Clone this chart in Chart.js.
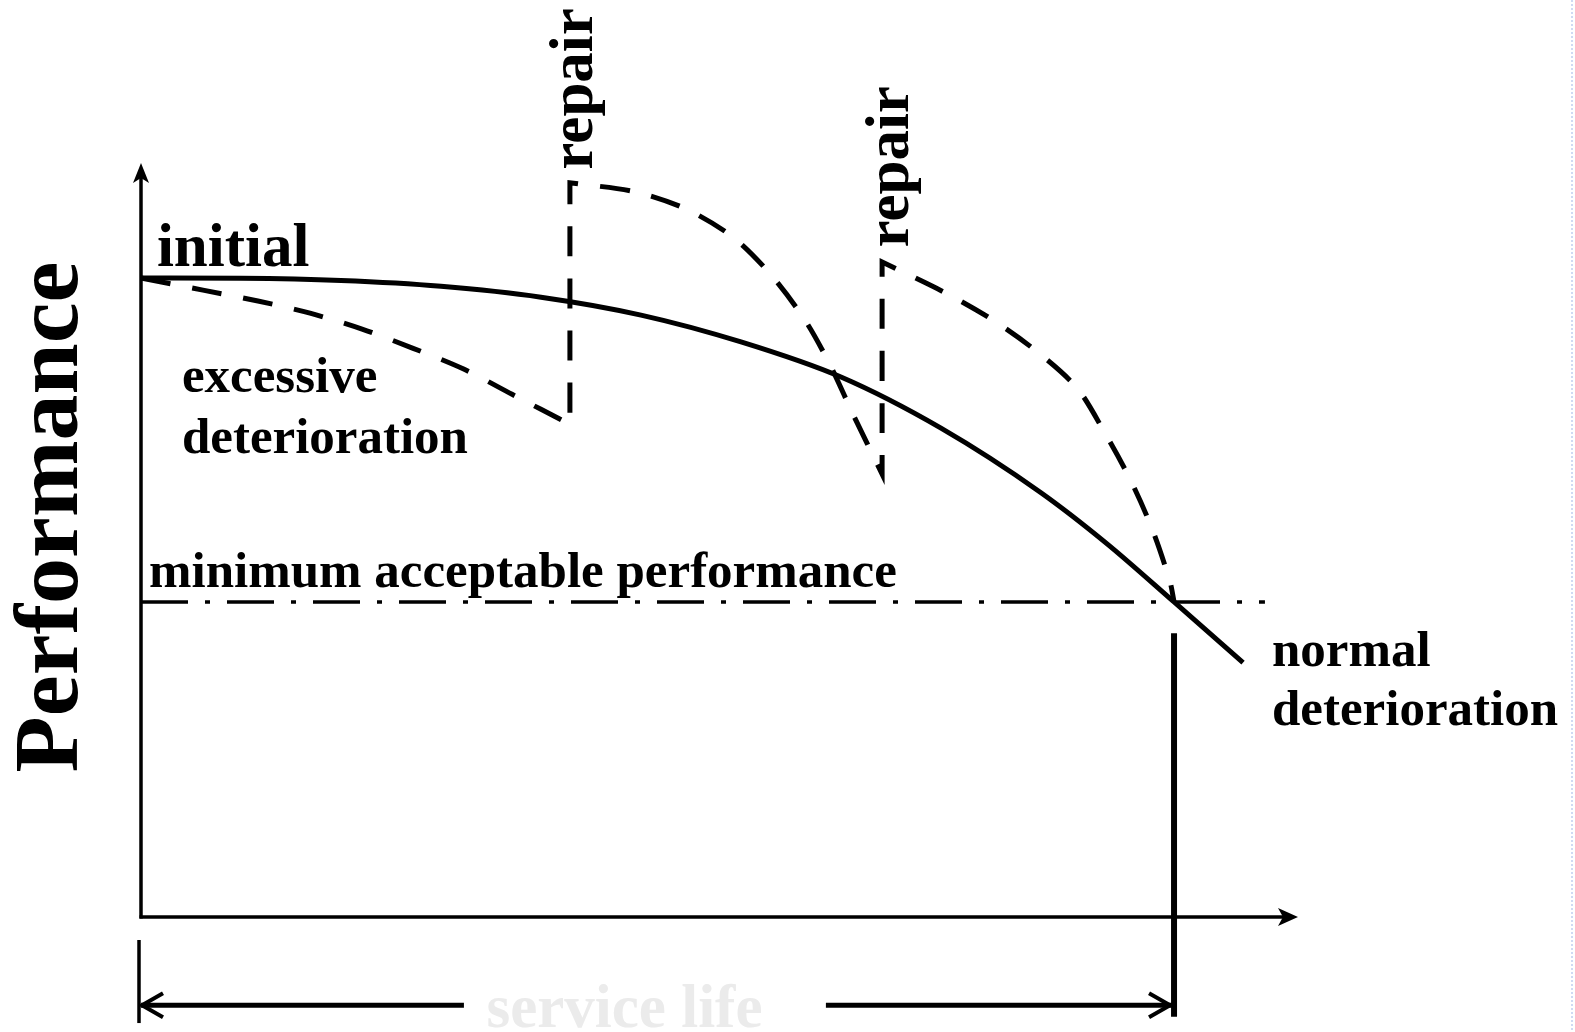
<!DOCTYPE html>
<html>
<head>
<meta charset="utf-8">
<script src="https://cdn.jsdelivr.net/npm/chart.js@4.4.1/dist/chart.umd.min.js"></script>
<style>
  html, body { margin: 0; padding: 0; background: #ffffff; }
  #wrap { width: 1575px; height: 1032px; position: relative; }
</style>
</head>
<body>
<div id="wrap"><canvas id="c" width="1575" height="1032"></canvas></div>
<script>
// ---- data (time on x, performance on y; initial performance = 100) ----
const normalX = [0, 4.84, 9.68, 14.52, 19.36, 24.2, 29.04, 33.88, 38.72, 43.56, 46.76, 50, 53.34];
const normalY = [100, 99.95, 99.6, 98.7, 97.0, 94.2, 90.0, 84.5, 76.5, 66.4, 58.4, 49.3, 39.8];

// repaired trajectory: excessive deterioration -> repair jump -> deterioration -> repair jump -> deterioration
// (corner points are listed twice so the curve keeps a sharp corner there)
const repairX = [0, 3.0, 5.66, 8.18, 10.7, 13.17, 15.59, 17.96, 20.76, 20.76,
                 20.76, 20.76, 23.91, 26.38, 28.65, 30.49, 32.14, 33.35, 34.46, 35.87, 35.87,
                 35.87, 35.87, 38.92, 41.24, 43.32, 45.3, 46.66, 47.92, 48.98, 49.81, 50];
const repairY = [100, 98.1, 96.4, 94.5, 92.0, 89.0, 85.8, 81.8, 77.1, 77.1,
                 114.9, 114.9, 113.5, 110.8, 106.4, 100.5, 93.4, 86.4, 78.7, 69.3, 69.3,
                 102.5, 102.5, 97.7, 93.4, 88.6, 82.8, 75.7, 68.2, 60.4, 52.4, 49.3];

const minAcceptableX = [0, 54.4];
const minAcceptableY = [49.3, 49.3];

const serviceLifeEnd = 50;      // end of service life (x)
const axisMaxX = 56;            // x-axis arrow tip
const axisMaxY = 118;           // y-axis arrow tip

const toPts = (xs, ys) => xs.map((x, i) => ({ x: x, y: ys[i] }));

// ---- annotation texts (data coordinates) ----
const FONT = '"Liberation Serif", "Times New Roman", serif';
const texts = [
  { t: 'initial', x: 0.77, y: 101.9, size: 61, align: 'left' },
  { t: 'excessive', x: 1.98, y: 82.2, size: 51, align: 'left' },
  { t: 'deterioration', x: 1.98, y: 72.6, size: 51, align: 'left' },
  { t: 'minimum acceptable performance', x: 0.39, y: 51.6, size: 51, align: 'left' },
  { t: 'normal', x: 54.74, y: 39.3, size: 51, align: 'left' },
  { t: 'deterioration', x: 54.74, y: 30.0, size: 51, align: 'left' },
  { t: 'repair', x: 21.85, y: 129.6, size: 61, align: 'center', rot: true },
  { t: 'repair', x: 37.1, y: 117.4, size: 61, align: 'center', rot: true },
  { t: 'Performance', x: -3.1, y: 62.6, size: 92, align: 'center', rot: true },
  { t: 'service life', x: 23.4, y: -17.2, size: 61, align: 'center', color: '#ebebeb' }
];

const decor = {
  id: 'decor',
  afterDatasetsDraw(chart) {
    const ctx = chart.ctx;
    const xs = chart.scales.x, ys = chart.scales.y;
    const X = v => xs.getPixelForValue(v), Y = v => ys.getPixelForValue(v);
    ctx.save();
    ctx.strokeStyle = '#000'; ctx.fillStyle = '#000';
    ctx.lineCap = 'butt';

    const line = (x1, y1, x2, y2, w) => {
      ctx.lineWidth = w; ctx.beginPath(); ctx.moveTo(x1, y1); ctx.lineTo(x2, y2); ctx.stroke();
    };
    // axes
    const x0 = X(0), y0 = Y(0), xt = X(axisMaxX), yt = Y(axisMaxY);
    line(x0, y0 + 1.5, x0, yt + 14, 3.5);
    line(x0 - 1.5, y0, xt - 14, y0, 3.5);
    ctx.beginPath(); ctx.moveTo(x0, yt); ctx.lineTo(x0 - 8, yt + 20); ctx.lineTo(x0, yt + 15); ctx.lineTo(x0 + 8, yt + 20); ctx.closePath(); ctx.fill();
    ctx.beginPath(); ctx.moveTo(xt, y0); ctx.lineTo(xt - 20, y0 - 9); ctx.lineTo(xt - 15, y0); ctx.lineTo(xt - 20, y0 + 9); ctx.closePath(); ctx.fill();

    // service life bracket
    const xe = X(serviceLifeEnd);
    line(X(0) - 2, Y(-3.6), X(0) - 2, Y(-16.6), 3.5);
    line(xe, Y(44.4), xe, Y(-15.6), 6);
    const ya = Y(-13.8);
    line(X(0), ya, X(15.63), ya, 5);
    line(X(33.15), ya, xe - 2, ya, 5);
    ctx.lineWidth = 4; ctx.lineJoin = 'miter';
    ctx.beginPath(); ctx.moveTo(X(0) + 22, ya - 12); ctx.lineTo(X(0) + 1, ya); ctx.lineTo(X(0) + 22, ya + 12); ctx.stroke();
    ctx.beginPath(); ctx.moveTo(xe - 25, ya - 12); ctx.lineTo(xe - 4, ya); ctx.lineTo(xe - 25, ya + 12); ctx.stroke();

    // texts
    texts.forEach(o => {
      ctx.save();
      ctx.fillStyle = o.color || '#000';
      ctx.font = 'bold ' + o.size + 'px ' + FONT;
      ctx.textAlign = o.align;
      ctx.textBaseline = 'alphabetic';
      ctx.translate(X(o.x), Y(o.y));
      if (o.rot) ctx.rotate(-Math.PI / 2);
      ctx.fillText(o.t, 0, 0);
      ctx.restore();
    });

    // faint page edge
    ctx.strokeStyle = '#cfdaf3'; ctx.setLineDash([2, 2]);
    line(1572, 0, 1572, 1032, 2);
    ctx.restore();
  }
};

new Chart(document.getElementById('c'), {
  type: 'line',
  data: {
    datasets: [
      { label: 'normal deterioration', data: toPts(normalX, normalY), borderColor: '#000', borderWidth: 5,
        cubicInterpolationMode: 'monotone', pointRadius: 0, fill: false },
      { label: 'repair', data: toPts(repairX, repairY), borderColor: '#000', borderWidth: 5,
        borderDash: [30, 22], tension: 0.3, pointRadius: 0, fill: false, borderJoinStyle: 'miter' },
      { label: 'minimum acceptable performance', data: toPts(minAcceptableX, minAcceptableY), borderColor: '#000',
        borderWidth: 3.5, borderDash: [47, 17, 5, 17], pointRadius: 0, fill: false }
    ]
  },
  options: {
    responsive: false,
    animation: false,
    devicePixelRatio: 1,
    layout: { padding: { left: 141, right: 277, top: 163, bottom: 0 } },
    scales: {
      x: { type: 'linear', min: 0, max: axisMaxX, display: false },
      y: { type: 'linear', min: -18, max: axisMaxY, display: false }
    },
    datasets: { line: { clip: false } },
    plugins: { legend: { display: false }, tooltip: { enabled: false } }
  },
  plugins: [decor]
});
</script>
</body>
</html>
